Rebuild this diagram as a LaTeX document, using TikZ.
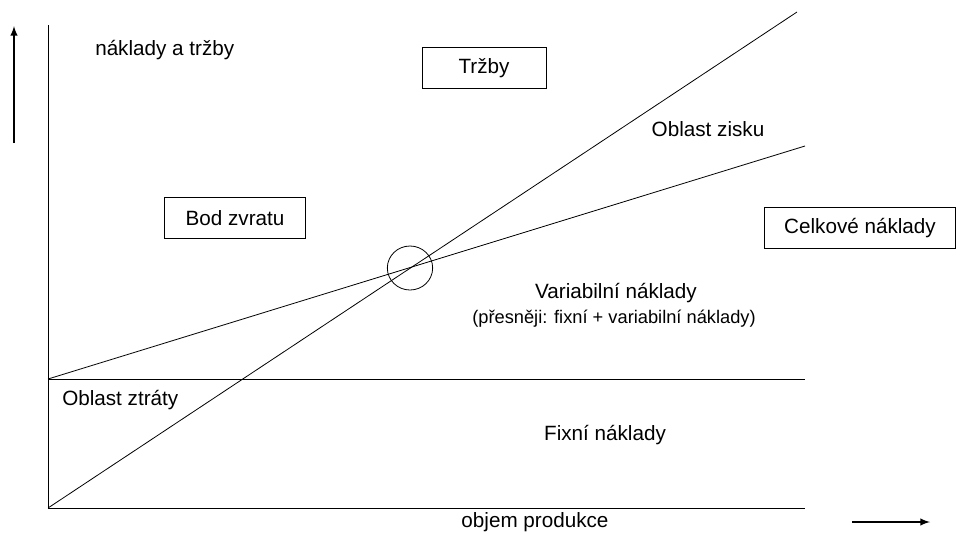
\documentclass[tikz,border=0pt]{standalone}
\usepackage{fontspec}
\setmainfont{Liberation Sans}
\usetikzlibrary{shapes.geometric, arrows}
\tikzstyle{box} = [rectangle, draw=black, line width=0.6pt,
                   minimum width=93pt, minimum height=31pt,
                   text centered, font=\fontsize{15.5}{18}\selectfont]
\tikzstyle{popis} = [font=\fontsize{15.5}{18}\selectfont, inner sep=0pt]
\tikzstyle{line} = [line width=0.6pt]
\tikzstyle{arrow} = [line width=1.5pt,->,>=latex]

\begin{document}
\begin{tikzpicture}[x=0.75pt, y=-0.75pt]
        \useasboundingbox (0,0) rectangle (963,532);

        %osy
        \coordinate (O) at (48,508);
        \coordinate (Ytop) at (48,25);
        \coordinate (Xend) at (805,508);
        \draw [line] (Ytop) -- (O) -- (Xend);

        %sipky
        \coordinate (UpA) at (14,143);
        \coordinate (UpB) at (14,26);
        \draw [arrow] (UpA) -- (UpB);
        \coordinate (RightA) at (852,522);
        \coordinate (RightB) at (930,522);
        \draw [arrow] (RightA) -- (RightB);

        %primky
        \coordinate (FixStart) at (48,379);
        \coordinate (FixEnd) at (805,379);
        \coordinate (TrzbyEnd) at (797,12);
        \coordinate (CelkEnd) at (805,146);
        \draw [line] (FixStart) -- (FixEnd);
        \draw [line] (O) -- (TrzbyEnd);
        \draw [line] (FixStart) -- (CelkEnd);

        %bod zvratu
        \node (BZ) [draw, line width=0.6pt, ellipse, minimum width=34pt, minimum height=33pt, inner sep=0pt] at (410,268) {};

        %ramecky
        \node (Trzby) [box] at (484,68) {Tržby};
        \node (Bod) [box, minimum width=106pt] at (235,218) {Bod zvratu};
        \node (Celk) [box, minimum width=143pt] at (860,228) {Celkové náklady};

        %popisky
        \node (Osa) [popis, anchor=west] at (95,50) {náklady a tržby};
        \node (Zisk) [popis] at (708,129) {Oblast zisku};
        \node (Var) [popis] at (616,293) {Variabilní náklady};
        \node (Pozn) [popis, font=\fontsize{13.7}{16}\selectfont] at (614,319) {(přesněji: fixní + variabilní náklady)};
        \node (Ztrata) [popis, anchor=west] at (62,400) {Oblast ztráty};
        \node (Fix) [popis] at (605,435) {Fixní náklady};
        \node (Objem) [popis] at (535,522) {objem produkce};

\end{tikzpicture}
\end{document}
